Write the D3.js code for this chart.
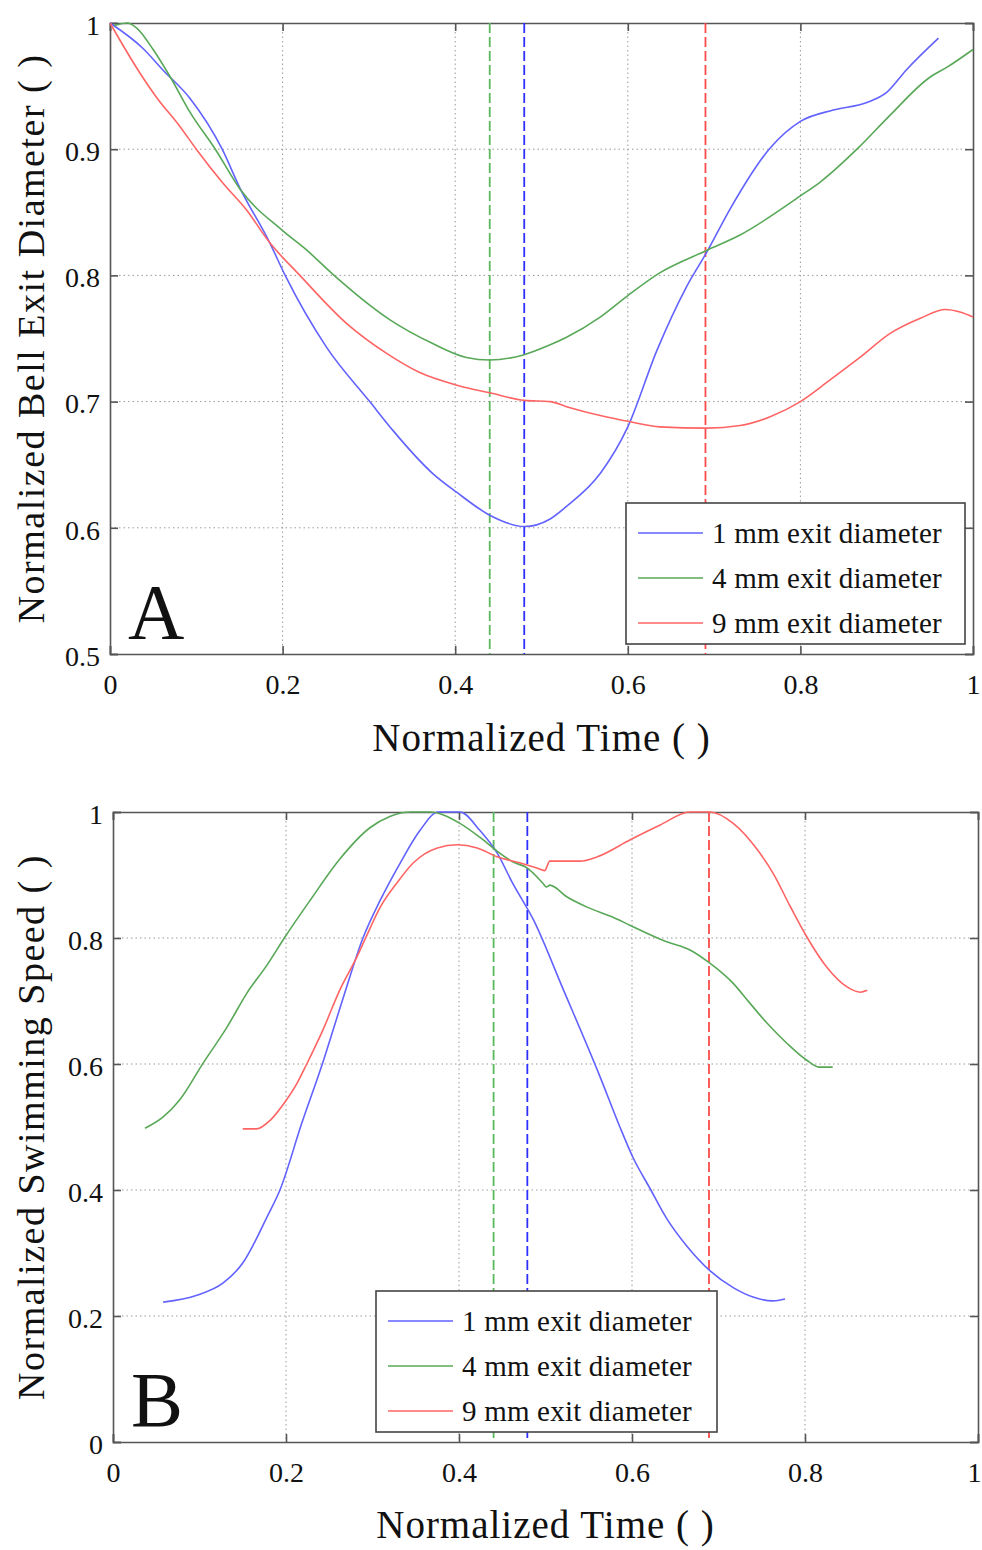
<!DOCTYPE html>
<html>
<head>
<meta charset="utf-8">
<script src="https://cdn.jsdelivr.net/npm/d3@7"></script>
<style>
    body { margin: 0; background: #fff; }
    text { font-family: "Liberation Serif", "Times New Roman", serif; fill: #111; }
</style>
</head>
<body>
<div id="chart-area"></div>
<script>

// ---- data ----
const timeTicks = [0, 0.2, 0.4, 0.6, 0.8, 1];
const diameterTicks = [0.5, 0.6, 0.7, 0.8, 0.9, 1];
const speedTicks = [0, 0.2, 0.4, 0.6, 0.8, 1];
const seriesNames = ["1 mm exit diameter", "4 mm exit diameter", "9 mm exit diameter"];

// time of min diameter / max speed (dashed markers), order: 1mm, 4mm, 9mm
const markerTimesA = [0.48, 0.44, 0.69];
const markerTimesB = [0.479, 0.44, 0.689];

// panel A: normalized bell exit diameter
const diam1mm = [[0, 1], [0.038, 0.98], [0.061, 0.963], [0.093, 0.94], [0.13, 0.9], [0.15, 0.87], [0.185, 0.826],
    [0.203, 0.8], [0.251, 0.743], [0.301, 0.7], [0.328, 0.677], [0.374, 0.643], [0.402, 0.628], [0.44, 0.61],
    [0.48, 0.601], [0.51, 0.607], [0.529, 0.617], [0.568, 0.643], [0.6, 0.68], [0.634, 0.741], [0.668, 0.791],
    [0.692, 0.819], [0.718, 0.852], [0.765, 0.901], [0.8, 0.922], [0.838, 0.931], [0.877, 0.937], [0.9, 0.945],
    [0.923, 0.963], [0.96, 0.988]];
const diam4mm = [[0.005, 0.998], [0.02, 1.0], [0.031, 0.996], [0.05, 0.979], [0.07, 0.957], [0.093, 0.929], [0.122, 0.9],
    [0.151, 0.868], [0.199, 0.836], [0.228, 0.82], [0.258, 0.801], [0.324, 0.765], [0.374, 0.746], [0.413, 0.735],
    [0.44, 0.733], [0.479, 0.737], [0.51, 0.745], [0.529, 0.751], [0.568, 0.767], [0.6, 0.784], [0.637, 0.802],
    [0.692, 0.82], [0.73, 0.832], [0.8, 0.863], [0.823, 0.874], [0.867, 0.901], [0.904, 0.927], [0.95, 0.957],
    [0.97, 0.965], [1.0, 0.979]];
const diam9mm = [[0, 1], [0.035, 0.96], [0.054, 0.941], [0.081, 0.918], [0.1, 0.9], [0.131, 0.873], [0.158, 0.852],
    [0.185, 0.826], [0.22, 0.8], [0.274, 0.762], [0.321, 0.738], [0.359, 0.723], [0.402, 0.713], [0.44, 0.707],
    [0.48, 0.701], [0.51, 0.7], [0.529, 0.696], [0.568, 0.689], [0.603, 0.684], [0.637, 0.68], [0.692, 0.679],
    [0.73, 0.681], [0.765, 0.688], [0.8, 0.7], [0.834, 0.717], [0.869, 0.735], [0.904, 0.754], [0.939, 0.766],
    [0.968, 0.773], [0.985, 0.771], [1.0, 0.767]];

// panel B: normalized swimming speed
const speed1mm = [[0.058, 0.222], [0.097, 0.233], [0.127, 0.252], [0.15, 0.284], [0.178, 0.357], [0.193, 0.4],
    [0.218, 0.505], [0.242, 0.6], [0.265, 0.7], [0.289, 0.8], [0.309, 0.86], [0.332, 0.919], [0.355, 0.971],
    [0.376, 1.0], [0.401, 1.0], [0.424, 0.971], [0.444, 0.935], [0.462, 0.887], [0.486, 0.829], [0.52, 0.72],
    [0.563, 0.58], [0.586, 0.5], [0.601, 0.452], [0.621, 0.402], [0.64, 0.355], [0.664, 0.31], [0.69, 0.272],
    [0.717, 0.245], [0.74, 0.23], [0.763, 0.224], [0.777, 0.227]];
const speed4mm = [[0.037, 0.498], [0.058, 0.516], [0.077, 0.543], [0.104, 0.601], [0.132, 0.659], [0.155, 0.713],
    [0.178, 0.757], [0.199, 0.802], [0.228, 0.86], [0.262, 0.925], [0.297, 0.975], [0.32, 0.993], [0.345, 1.0],
    [0.366, 1.0], [0.401, 0.982], [0.424, 0.96], [0.444, 0.938], [0.462, 0.921], [0.479, 0.911], [0.497, 0.887],
    [0.501, 0.881], [0.505, 0.884], [0.525, 0.865], [0.548, 0.849], [0.578, 0.833], [0.598, 0.82], [0.64, 0.794],
    [0.667, 0.781], [0.69, 0.76], [0.717, 0.728], [0.736, 0.697], [0.756, 0.665], [0.779, 0.633], [0.802, 0.606],
    [0.817, 0.595], [0.832, 0.595]];
const speed9mm = [[0.15, 0.497], [0.166, 0.497], [0.182, 0.511], [0.199, 0.54], [0.213, 0.57], [0.224, 0.6],
    [0.243, 0.655], [0.262, 0.717], [0.282, 0.77], [0.293, 0.803], [0.309, 0.849], [0.328, 0.887], [0.347, 0.919],
    [0.375, 0.943], [0.398, 0.948], [0.421, 0.943], [0.444, 0.929], [0.471, 0.919], [0.49, 0.911], [0.499, 0.907],
    [0.505, 0.922], [0.54, 0.922], [0.56, 0.929], [0.598, 0.956], [0.632, 0.979], [0.667, 1.0], [0.69, 1.0],
    [0.717, 0.982], [0.745, 0.94], [0.763, 0.903], [0.783, 0.85], [0.802, 0.802], [0.825, 0.754], [0.849, 0.722],
    [0.864, 0.714], [0.872, 0.717]];


/* * * * * * * * * * * * * *
*     class LinePanel      *
* * * * * * * * * * * * * */

class LinePanel {

    constructor(svg, config) {
        this.svg = svg;
        this.config = config;

        this.lineColors = ["#6262ff", "#58a858", "#ff6464"];
        this.dashColors = ["#2f2fff", "#5cb85c", "#ff4a4a"];

        this.initVis();
    }

    initVis() {
        let vis = this;
        let c = vis.config;

        vis.margin = c.margin;
        vis.width = c.width;
        vis.height = c.height;

        vis.g = vis.svg.append("g")
            .attr("transform", `translate(${vis.margin.left}, ${vis.margin.top})`);

        vis.x = d3.scaleLinear().domain([0, 1]).range([0, vis.width]);
        vis.y = d3.scaleLinear().domain(c.yDomain).range([vis.height, 0]);

        // dotted grid
        vis.g.append("g").selectAll("line")
            .data(timeTicks.slice(1, -1))
            .enter().append("line")
            .attr("x1", d => vis.x(d)).attr("x2", d => vis.x(d))
            .attr("y1", 0).attr("y2", vis.height)
            .attr("stroke", "#9a9a9a").attr("stroke-dasharray", "1.5,3");

        vis.g.append("g").selectAll("line")
            .data(c.yTicks.slice(1, -1))
            .enter().append("line")
            .attr("x1", 0).attr("x2", vis.width)
            .attr("y1", d => vis.y(d)).attr("y2", d => vis.y(d))
            .attr("stroke", "#9a9a9a").attr("stroke-dasharray", "1.5,3");

        // axes (ticks pointing inward, matlab style)
        let tickLen = 8;
        vis.g.append("g")
            .attr("class", "x-axis")
            .attr("transform", `translate(0, ${vis.height})`)
            .call(d3.axisBottom(vis.x).tickValues(timeTicks).tickSize(-tickLen).tickPadding(20).tickFormat(d => String(d)));
        vis.g.append("g")
            .call(d3.axisTop(vis.x).tickValues(timeTicks).tickSize(-tickLen).tickFormat(""));
        vis.g.append("g")
            .attr("class", "y-axis")
            .call(d3.axisLeft(vis.y).tickValues(c.yTicks).tickSize(-tickLen).tickPadding(10).tickFormat(d => String(d)));
        vis.g.append("g")
            .attr("transform", `translate(${vis.width}, 0)`)
            .call(d3.axisRight(vis.y).tickValues(c.yTicks).tickSize(-tickLen).tickFormat(""));

        vis.g.selectAll(".domain").attr("stroke", "#555").attr("stroke-width", 1.6);
        vis.g.selectAll(".tick line").attr("stroke", "#555").attr("stroke-width", 1.6);
        vis.g.selectAll(".tick text")
            .style("font-family", "Liberation Serif")
            .style("font-size", "28px")
            .attr("fill", "#111");
        vis.g.selectAll(".y-axis .tick text").attr("dy", "0.4em");
        // keep the last time label inside the window
        vis.g.selectAll(".x-axis .tick text").filter(d => d === 1).attr("dx", c.lastTickShift || 0);

        // labels
        vis.g.append("text")
            .attr("x", vis.width / 2)
            .attr("y", vis.height + c.xLabelOffset)
            .attr("text-anchor", "middle")
            .style("font-size", "39px")
            .style("letter-spacing", "1px")
            .text("Normalized Time ( )");

        vis.g.append("text")
            .attr("transform", `translate(${c.yLabelX}, ${vis.height / 2}) rotate(-90)`)
            .attr("text-anchor", "middle")
            .style("font-size", "38px")
            .style("letter-spacing", "1.5px")
            .text(c.yLabel);

        vis.updateVis();
    }

    updateVis() {
        let vis = this;
        let c = vis.config;

        let line = d3.line()
            .x(d => vis.x(d[0]))
            .y(d => vis.y(d[1]))
            .curve(d3.curveMonotoneX);

        // dashed markers
        vis.g.append("g").selectAll("line")
            .data(c.markers)
            .enter().append("line")
            .attr("x1", d => vis.x(d)).attr("x2", d => vis.x(d))
            .attr("y1", 0).attr("y2", vis.height)
            .attr("stroke", (d, i) => vis.dashColors[i])
            .attr("stroke-width", 1.8)
            .attr("stroke-dasharray", "10,4");

        // curves
        vis.g.append("g").selectAll("path")
            .data(c.series)
            .enter().append("path")
            .attr("d", line)
            .attr("fill", "none")
            .attr("stroke", (d, i) => vis.lineColors[i])
            .attr("stroke-width", 1.6);

        // panel letter
        vis.g.append("text")
            .attr("x", 18)
            .attr("y", vis.height - 16)
            .style("font-size", "78px")
            .text(c.letter);

        // legend
        let lg = vis.g.append("g")
            .attr("transform", `translate(${c.legend.x}, ${c.legend.y})`);
        lg.append("rect")
            .attr("width", c.legend.w).attr("height", c.legend.h)
            .attr("fill", "#fff")
            .attr("stroke", "#444").attr("stroke-width", 1.6);

        let rows = lg.selectAll(".row")
            .data(seriesNames)
            .enter().append("g")
            .attr("transform", (d, i) => `translate(0, ${30 + i * 45})`);
        rows.append("line")
            .attr("x1", 12).attr("x2", 77)
            .attr("stroke", (d, i) => vis.lineColors[i])
            .attr("stroke-width", 1.6);
        rows.append("text")
            .attr("x", 86)
            .attr("dy", "0.35em")
            .style("font-size", "29px")
            .style("letter-spacing", "0.2px")
            .text(d => d);
    }
}


let svg = d3.select("#chart-area").append("svg")
    .attr("width", 982)
    .attr("height", 1550);

let panelA = new LinePanel(svg, {
    margin: {left: 110, top: 23},
    width: 863,
    height: 631,
    yDomain: [0.5, 1],
    yTicks: diameterTicks,
    yLabel: "Normalized Bell Exit Diameter ( )",
    yLabelX: -66,
    xLabelOffset: 97,
    series: [diam1mm, diam4mm, diam9mm],
    markers: markerTimesA,
    letter: "A",
    legend: {x: 516, y: 480, w: 339, h: 141}
});

let panelB = new LinePanel(svg, {
    margin: {left: 113, top: 812},
    width: 865,
    height: 630,
    yDomain: [0, 1],
    yTicks: speedTicks,
    yLabel: "Normalized Swimming Speed ( )",
    yLabelX: -69,
    xLabelOffset: 96,
    lastTickShift: -4,
    series: [speed1mm, speed4mm, speed9mm],
    markers: markerTimesB,
    letter: "B",
    legend: {x: 263, y: 479, w: 341, h: 141}
});

</script>
</body>
</html>
